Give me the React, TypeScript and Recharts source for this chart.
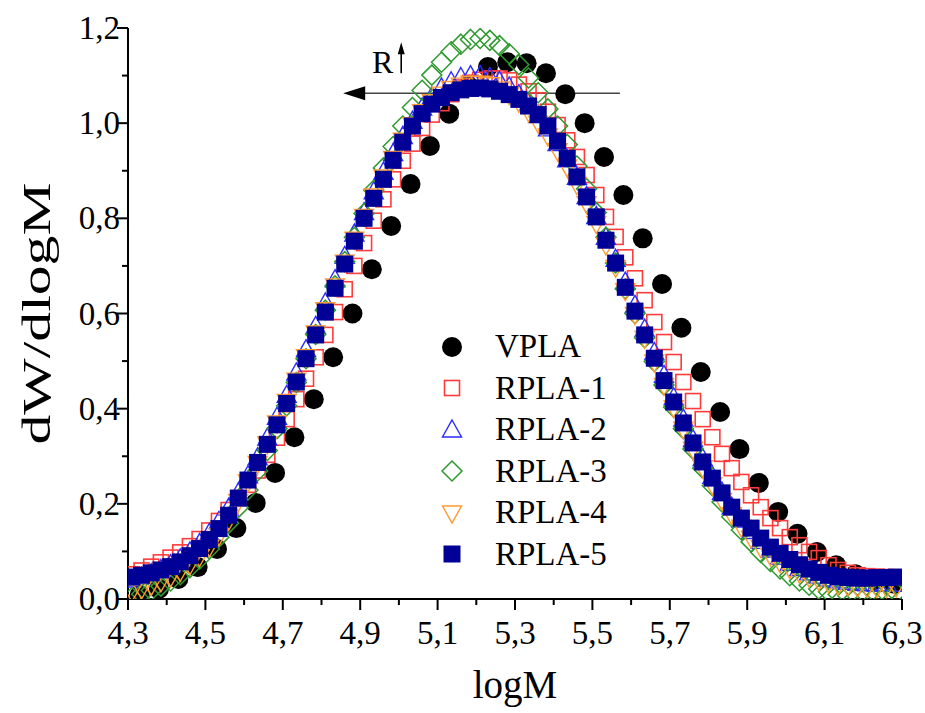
import React from "react";
import { ScatterChart, Scatter, XAxis, YAxis, Legend, ReferenceLine } from "recharts";

const font = '"Liberation Serif", "Times New Roman", serif';

// logM positions
const xVPLA = [
  4.33, 4.38, 4.43, 4.48, 4.53, 4.58, 4.63, 4.68, 4.73, 4.78,
  4.83, 4.88, 4.93, 4.98, 5.03, 5.08, 5.13, 5.18, 5.23, 5.28,
  5.33, 5.38, 5.43, 5.48, 5.53, 5.58, 5.63, 5.68, 5.73, 5.78,
  5.83, 5.88, 5.93, 5.98, 6.03, 6.08, 6.13, 6.18, 6.23, 6.28,
];
const xRPLA = [
  4.31, 4.335, 4.36, 4.385, 4.41, 4.435, 4.46, 4.485, 4.51, 4.535,
  4.56, 4.585, 4.61, 4.635, 4.66, 4.685, 4.71, 4.735, 4.76, 4.785,
  4.81, 4.835, 4.86, 4.885, 4.91, 4.935, 4.96, 4.985, 5.01, 5.035,
  5.06, 5.085, 5.11, 5.135, 5.16, 5.185, 5.21, 5.235, 5.26, 5.285,
  5.31, 5.335, 5.36, 5.385, 5.41, 5.435, 5.46, 5.485, 5.51, 5.535,
  5.56, 5.585, 5.61, 5.635, 5.66, 5.685, 5.71, 5.735, 5.76, 5.785,
  5.81, 5.835, 5.86, 5.885, 5.91, 5.935, 5.96, 5.985, 6.01, 6.035,
  6.06, 6.085, 6.11, 6.135, 6.16, 6.185, 6.21, 6.235, 6.26, 6.285,
];

// dW/dlogM
const yVPLA = [
  0.008, 0.021, 0.042, 0.067, 0.105, 0.149, 0.202, 0.265, 0.340, 0.420,
  0.508, 0.600, 0.693, 0.784, 0.872, 0.952, 1.020, 1.078, 1.118, 1.128,
  1.126, 1.105, 1.061, 1.000, 0.929, 0.849, 0.758, 0.662, 0.570, 0.477,
  0.393, 0.315, 0.244, 0.183, 0.137, 0.099, 0.071, 0.052, 0.040, 0.032,
];
const yRPLA1 = [
  0.052, 0.060, 0.068, 0.077, 0.087, 0.098, 0.111, 0.126, 0.144, 0.164,
  0.187, 0.212, 0.240, 0.270, 0.303, 0.339, 0.378, 0.420, 0.463, 0.508,
  0.555, 0.603, 0.651, 0.700, 0.748, 0.795, 0.840, 0.882, 0.921, 0.957,
  0.990, 1.018, 1.042, 1.061, 1.075, 1.085, 1.091, 1.094, 1.094, 1.090,
  1.081, 1.067, 1.048, 1.024, 0.996, 0.964, 0.929, 0.891, 0.849, 0.803,
  0.761, 0.718, 0.674, 0.628, 0.582, 0.540, 0.498, 0.456, 0.416, 0.378,
  0.340, 0.305, 0.275, 0.246, 0.218, 0.193, 0.170, 0.149, 0.130, 0.113,
  0.099, 0.086, 0.071, 0.061, 0.055, 0.050, 0.048, 0.047, 0.046, 0.046,
];
const yRPLA2 = [
  0.040, 0.046, 0.053, 0.062, 0.072, 0.084, 0.099, 0.117, 0.138, 0.163,
  0.191, 0.223, 0.259, 0.297, 0.338, 0.382, 0.428, 0.475, 0.524, 0.573,
  0.622, 0.671, 0.720, 0.767, 0.812, 0.856, 0.897, 0.936, 0.972, 1.004,
  1.032, 1.055, 1.074, 1.087, 1.096, 1.100, 1.100, 1.096, 1.088, 1.076,
  1.060, 1.040, 1.016, 0.988, 0.957, 0.923, 0.886, 0.846, 0.804, 0.760,
  0.714, 0.666, 0.617, 0.567, 0.518, 0.470, 0.423, 0.378, 0.335, 0.295,
  0.258, 0.224, 0.193, 0.166, 0.142, 0.121, 0.103, 0.088, 0.075, 0.064,
  0.055, 0.048, 0.042, 0.038, 0.035, 0.033, 0.032, 0.031, 0.031, 0.031,
];
const yRPLA3 = [
  0.003, 0.010, 0.018, 0.027, 0.038, 0.051, 0.066, 0.084, 0.105, 0.130,
  0.159, 0.192, 0.229, 0.269, 0.312, 0.358, 0.406, 0.455, 0.505, 0.556,
  0.607, 0.658, 0.709, 0.760, 0.810, 0.859, 0.906, 0.951, 0.994, 1.033,
  1.069, 1.101, 1.128, 1.150, 1.166, 1.176, 1.178, 1.174, 1.163, 1.146,
  1.123, 1.095, 1.064, 1.030, 0.994, 0.955, 0.910, 0.862, 0.812, 0.760,
  0.706, 0.652, 0.600, 0.549, 0.499, 0.450, 0.403, 0.358, 0.315, 0.275,
  0.238, 0.204, 0.173, 0.145, 0.120, 0.098, 0.079, 0.063, 0.049, 0.038,
  0.029, 0.021, 0.015, 0.010, 0.007, 0.006, 0.007, 0.009, 0.011, 0.013,
];
const yRPLA4 = [
  0.015, 0.021, 0.028, 0.036, 0.046, 0.058, 0.072, 0.089, 0.109, 0.133,
  0.165, 0.205, 0.246, 0.285, 0.326, 0.370, 0.415, 0.460, 0.509, 0.559,
  0.608, 0.658, 0.708, 0.756, 0.804, 0.847, 0.887, 0.926, 0.964, 0.997,
  1.024, 1.045, 1.061, 1.073, 1.080, 1.084, 1.084, 1.081, 1.072, 1.060,
  1.044, 1.024, 1.000, 0.973, 0.942, 0.908, 0.871, 0.831, 0.789, 0.744,
  0.697, 0.648, 0.598, 0.548, 0.498, 0.449, 0.402, 0.357, 0.315, 0.276,
  0.240, 0.207, 0.177, 0.151, 0.128, 0.108, 0.091, 0.076, 0.064, 0.054,
  0.046, 0.039, 0.034, 0.030, 0.027, 0.025, 0.024, 0.024, 0.024, 0.025,
];
const yRPLA5 = [
  0.046, 0.050, 0.055, 0.061, 0.068, 0.078, 0.091, 0.106, 0.125, 0.148,
  0.176, 0.212, 0.250, 0.287, 0.325, 0.366, 0.411, 0.456, 0.505, 0.555,
  0.603, 0.653, 0.704, 0.752, 0.800, 0.842, 0.882, 0.922, 0.960, 0.994,
  1.020, 1.040, 1.054, 1.064, 1.070, 1.073, 1.074, 1.072, 1.067, 1.060,
  1.050, 1.036, 1.018, 0.994, 0.962, 0.926, 0.887, 0.845, 0.803, 0.754,
  0.706, 0.655, 0.605, 0.555, 0.506, 0.459, 0.414, 0.370, 0.328, 0.288,
  0.254, 0.223, 0.193, 0.170, 0.149, 0.128, 0.109, 0.096, 0.083, 0.072,
  0.063, 0.056, 0.050, 0.047, 0.045, 0.044, 0.044, 0.045, 0.045, 0.046,
];

const xTicks = [4.3, 4.4, 4.5, 4.6, 4.7, 4.8, 4.9, 5.0, 5.1, 5.2, 5.3, 5.4, 5.5, 5.6, 5.7, 5.8, 5.9, 6.0, 6.1, 6.2, 6.3];
const yTicks = [0, 0.1, 0.2, 0.3, 0.4, 0.5, 0.6, 0.7, 0.8, 0.9, 1.0, 1.1, 1.2];

// "R" arrow annotation (data coords)
const shiftArrow = [{ x: 5.571, y: 1.063 }, { x: 4.87, y: 1.063 }];
const shiftTip = [{ x: 4.856, y: 1.063 }];
const rLabel = [{ x: 4.958, y: 1.128 }];
const rArrow = [{ x: 5.006, y: 1.105 }, { x: 5.006, y: 1.15 }];
const rTip = [{ x: 5.006, y: 1.17 }];

const toPoints = (xs: number[], ys: number[]) => xs.map((x, i) => ({ x, y: ys[i] }));
const fmt = (v: number) => v.toFixed(1).replace(".", ",");

const RED = "#ff3b3b";
const BLUE = "#2b2bff";
const GREEN = "#2e9a2e";
const ORANGE = "#ff9a30";
const NAVY = "#000096";

const circle = (p: any) => <circle cx={p.cx} cy={p.cy} r={10} fill="#000" />;
const openSquare = (p: any) => (
  <rect x={p.cx - 7.5} y={p.cy - 7.5} width={15} height={15} fill="none" stroke={RED} strokeWidth={1.6} />
);
const upTri = (p: any) => (
  <polygon
    points={`${p.cx},${p.cy - 10} ${p.cx + 9.5},${p.cy + 7} ${p.cx - 9.5},${p.cy + 7}`}
    fill="none" stroke={BLUE} strokeWidth={1.4}
  />
);
const diamond = (p: any) => (
  <polygon
    points={`${p.cx},${p.cy - 10} ${p.cx + 10},${p.cy} ${p.cx},${p.cy + 10} ${p.cx - 10},${p.cy}`}
    fill="none" stroke={GREEN} strokeWidth={1.5}
  />
);
const downTri = (p: any) => (
  <polygon
    points={`${p.cx - 9.5},${p.cy - 7} ${p.cx + 9.5},${p.cy - 7} ${p.cx},${p.cy + 10}`}
    fill="none" stroke={ORANGE} strokeWidth={1.4}
  />
);
const filledSquare = (p: any) => <rect x={p.cx - 8.5} y={p.cy - 8.5} width={17} height={17} fill={NAVY} />;

const leftHead = (p: any) => (
  <polygon points={`${p.cx},${p.cy} ${p.cx + 22},${p.cy - 7} ${p.cx + 22},${p.cy + 7}`} fill="#000" />
);
const upHead = (p: any) => (
  <polygon points={`${p.cx},${p.cy} ${p.cx - 3.5},${p.cy + 12} ${p.cx + 3.5},${p.cy + 12}`} fill="#000" />
);
const rText = (p: any) => (
  <text x={p.cx} y={p.cy + 11} textAnchor="middle" fontSize={32} fontFamily={font} fill="#000">R</text>
);

const isMajorX = (v: number) => Math.round(v * 10) % 2 === 1;
const isMajorY = (v: number) => Math.round(v * 10) % 2 === 0;

const BottomTick = (p: any) => {
  const v = p.payload.value;
  const major = isMajorX(v);
  return (
    <g>
      <line x1={p.x} y1={p.y} x2={p.x} y2={p.y + (major ? 11 : 6)} stroke="#000" strokeWidth={2} />
      {major && (
        <text x={p.x} y={p.y + 45} textAnchor="middle" fontSize={33} fontFamily={font} fill="#000">
          {fmt(v)}
        </text>
      )}
    </g>
  );
};
const TopTick = (p: any) => {
  const major = isMajorX(p.payload.value);
  return <line x1={p.x} y1={p.y} x2={p.x} y2={p.y + (major ? 11 : 5)} stroke="#000" strokeWidth={2} />;
};
const LeftTick = (p: any) => {
  const v = p.payload.value;
  const major = isMajorY(v);
  return (
    <g>
      <line x1={p.x} y1={p.y} x2={p.x - (major ? 11 : 6)} y2={p.y} stroke="#000" strokeWidth={2} />
      {major && (
        <text x={p.x - 8} y={p.y + 11} textAnchor="end" fontSize={33} fontFamily={font} fill="#000">
          {fmt(v)}
        </text>
      )}
    </g>
  );
};
const RightTick = (p: any) => {
  const major = isMajorY(p.payload.value);
  return <line x1={p.x} y1={p.y} x2={p.x - (major ? 12 : 6)} y2={p.y} stroke="#000" strokeWidth={2} />;
};

const series = [
  { name: "VPLA", ys: yVPLA, xs: xVPLA, shape: circle },
  { name: "RPLA-1", ys: yRPLA1, xs: xRPLA, shape: openSquare },
  { name: "RPLA-2", ys: yRPLA2, xs: xRPLA, shape: upTri },
  { name: "RPLA-3", ys: yRPLA3, xs: xRPLA, shape: diamond },
  { name: "RPLA-4", ys: yRPLA4, xs: xRPLA, shape: downTri },
  { name: "RPLA-5", ys: yRPLA5, xs: xRPLA, shape: filledSquare },
];

const LegendBox = () => (
  <div style={{ fontFamily: font, fontSize: 33, color: "#000" }}>
    {series.map((s) => (
      <div key={s.name} style={{ display: "flex", alignItems: "center", height: 41.5 }}>
        <svg width={26} height={26} style={{ display: "block" }}>
          {s.shape({ cx: 13, cy: 13 })}
        </svg>
        <span style={{ marginLeft: 30, lineHeight: "41.5px" }}>{s.name}</span>
      </div>
    ))}
  </div>
);

const axisStroke = { stroke: "#000", strokeWidth: 2 };

export default function App() {
  return (
    <div style={{ position: "absolute", left: 0, top: 0, background: "#fff" }}>
      <ScatterChart width={925} height={713} margin={{ top: 28, right: 23, bottom: 0, left: 0 }}>
        <XAxis
          type="number"
          dataKey="x"
          domain={[4.3, 6.3]}
          ticks={xTicks}
          interval={0}
          allowDataOverflow
          height={114}
          tickSize={0}
          tickMargin={0}
          tickLine={false}
          tick={BottomTick}
          axisLine={axisStroke}
          label={(p: any) => (
            <text
              x={p.viewBox.x + p.viewBox.width / 2}
              y={p.viewBox.y + 99}
              textAnchor="middle"
              fontSize={39}
              fontFamily={font}
              fill="#000"
            >
              logM
            </text>
          )}
        />
        <XAxis
          xAxisId="top"
          orientation="top"
          type="number"
          domain={[4.3, 6.3]}
          ticks={xTicks}
          interval={0}
          allowDataOverflow
          height={0}
          tickSize={0}
          tickMargin={0}
          tickLine={false}
          tick={TopTick}
          axisLine={axisStroke}
        />
        <YAxis
          type="number"
          dataKey="y"
          domain={[0, 1.2]}
          ticks={yTicks}
          interval={0}
          allowDataOverflow
          width={128}
          tickSize={0}
          tickMargin={0}
          tickLine={false}
          tick={LeftTick}
          axisLine={axisStroke}
          label={(p: any) => {
            const cx = 50;
            const cy = p.viewBox.y + p.viewBox.height / 2;
            return (
              <text
                x={cx}
                y={cy}
                transform={`rotate(-90 ${cx} ${cy})`}
                textAnchor="middle"
                fontSize={40}
                fontFamily={font}
                fill="#000"
                textLength={262}
                lengthAdjust="spacingAndGlyphs"
              >
                dW/dlogM
              </text>
            );
          }}
        />
        <YAxis
          yAxisId="right"
          orientation="right"
          type="number"
          domain={[0, 1.2]}
          ticks={yTicks}
          interval={0}
          allowDataOverflow
          width={0}
          tickSize={0}
          tickMargin={0}
          tickLine={false}
          tick={RightTick}
          axisLine={axisStroke}
        />
        <ReferenceLine segment={shiftArrow} stroke="#444" strokeWidth={1.4} ifOverflow="visible" />
        <ReferenceLine segment={rArrow} stroke="#000" strokeWidth={1.6} ifOverflow="visible" />
        {series.map((s) => (
          <Scatter
            key={s.name}
            name={s.name}
            data={toPoints(s.xs, s.ys)}
            shape={s.shape}
            isAnimationActive={false}
          />
        ))}
        <Scatter data={shiftTip} shape={leftHead} legendType="none" isAnimationActive={false} />
        <Scatter data={rTip} shape={upHead} legendType="none" isAnimationActive={false} />
        <Scatter data={rLabel} shape={rText} legendType="none" isAnimationActive={false} />
        <Legend
          layout="vertical"
          align="center"
          verticalAlign="middle"
          content={LegendBox}
          wrapperStyle={{ position: "absolute", left: 439, top: 326, width: 260 }}
        />
      </ScatterChart>
    </div>
  );
}
